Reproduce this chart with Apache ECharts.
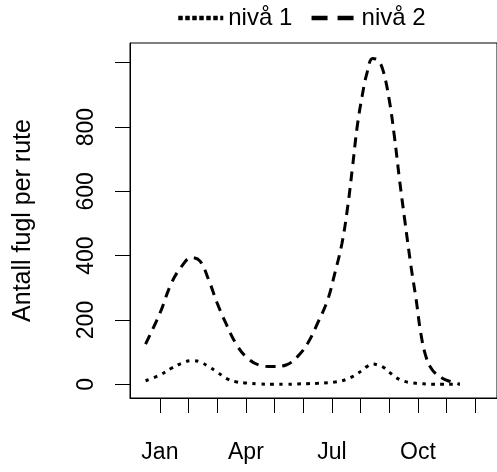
<!DOCTYPE html>
<html>
<head>
<meta charset="utf-8">
<script src="https://cdn.jsdelivr.net/npm/echarts@6/dist/echarts.min.js"></script>
<style>
  html, body { margin: 0; padding: 0; background: #fff; }
  #chart { width: 497px; height: 472px; }
</style>
</head>
<body>
<div id="chart"></div>
<script>
// Month position (Jan = 1) of each sample along the year
const months = [0.5, 1.0, 1.4, 1.75, 2.1, 2.4, 2.7, 3.0, 3.3, 3.65,
                4.0, 4.45, 4.95, 5.4, 5.8, 6.15, 6.5, 6.85, 7.1, 7.35,
                7.55, 7.72, 7.88, 8.05, 8.22, 8.42, 8.6, 8.78, 9.0, 9.18,
                9.36, 9.54, 9.76, 9.94, 10.1, 10.28, 10.5, 10.85, 11.15, 11.46];

// Birds per route, level 1 (dotted) and level 2 (dashed)
const niva1 = [11, 29, 50, 65, 74, 70, 55, 38, 19, 8,
               4, 1, 0, 0, 1, 2, 3, 5, 7, 11,
               17, 24, 33, 43, 55, 63, 60, 54, 38, 25,
               15, 9, 5, 3, 2, 1, 0, 0, 0, 0];
const niva2 = [125, 221, 314, 366, 394, 383, 325, 252, 190, 127,
               86, 60, 55, 60, 86, 127, 190, 262, 345, 438,
               552, 677, 800, 894, 967, 1013, 1008, 977, 884, 770,
               635, 511, 366, 262, 159, 86, 45, 19, 8, 0];

const seriesNames = ['nivå 1', 'nivå 2'];
const monthTicks = [1, 2, 3, 4, 5, 6, 7, 8, 9, 10, 11, 12];
const monthLabels = {1: 'Jan', 4: 'Apr', 7: 'Jul', 10: 'Oct'};
const yTicks = [0, 200, 400, 600, 800, 1000];
const yLabels = [0, 200, 400, 600, 800];

const FONT = '"Liberation Sans", Arial, Helvetica, sans-serif';
const FS = 23;

// x range: plot box runs past the right edge of the canvas
const X_MIN = -0.043;
const X_MAX = 12.758;

function pairs(xs, ys) { return xs.map((x, i) => [x, ys[i]]); }

const chart = echarts.init(document.getElementById('chart'), null, { renderer: 'canvas' });

chart.setOption({
  animation: false,
  backgroundColor: '#ffffff',
  textStyle: { fontFamily: FONT },
  legend: {
    left: 176,
    top: 6,
    padding: 0,
    itemWidth: 45,
    itemHeight: 14,
    itemGap: 17,
    textStyle: { fontSize: 24, color: '#000', fontFamily: FONT },
    data: [
      { name: seriesNames[0], itemStyle: { opacity: 0 }, lineStyle: { type: [4.5, 2.5], width: 4.5, color: '#000' } },
      { name: seriesNames[1], itemStyle: { opacity: 0 }, lineStyle: { type: [16, 10], width: 4.5, color: '#000' } }
    ]
  },
  grid: {
    left: 130, top: 43, right: -5, bottom: 74, containLabel: false,
    show: true, borderColor: '#000', borderWidth: 1, backgroundColor: 'transparent'
  },
  xAxis: [
    {
      type: 'value',
      min: X_MIN,
      max: X_MAX,
      position: 'bottom',
      splitLine: { show: false },
      axisLine: { show: true, onZero: false, lineStyle: { color: '#000', width: 1 } },
      axisTick: { show: true, length: 15, customValues: monthTicks, lineStyle: { color: '#000', width: 1 } },
      axisLabel: {
        show: true, margin: 43, fontSize: FS, color: '#000', fontFamily: FONT,
        customValues: Object.keys(monthLabels).map(Number),
        formatter: v => monthLabels[Math.round(v)] || ''
      }
    }
  ],
  yAxis: {
    type: 'value',
    min: -42.6,
    max: 1061.3,
    name: 'Antall fugl per rute',
    nameLocation: 'middle',
    nameGap: 94,
    nameTextStyle: { fontSize: 25, color: '#000', fontFamily: FONT },
    splitLine: { show: false },
    axisLine: { show: true, onZero: false, lineStyle: { color: '#000', width: 1 } },
    axisTick: { show: true, length: 15, customValues: yTicks, lineStyle: { color: '#000', width: 1 } },
    axisLabel: {
      show: true, rotate: 90, margin: 32, fontSize: FS, color: '#000', fontFamily: FONT,
      customValues: yLabels
    }
  },
  series: [
    {
      name: seriesNames[0],
      type: 'line',
      data: pairs(months, niva1),
      smooth: 0.4,
      symbol: 'none',
      itemStyle: { color: '#000' },
      lineStyle: { color: '#000', width: 3, type: [3.5, 5.5] }
    },
    {
      name: seriesNames[1],
      type: 'line',
      data: pairs(months, niva2),
      smooth: 0.4,
      symbol: 'none',
      itemStyle: { color: '#000' },
      lineStyle: { color: '#000', width: 3, type: [10, 7] }
    }
  ]
});
</script>
</body>
</html>
